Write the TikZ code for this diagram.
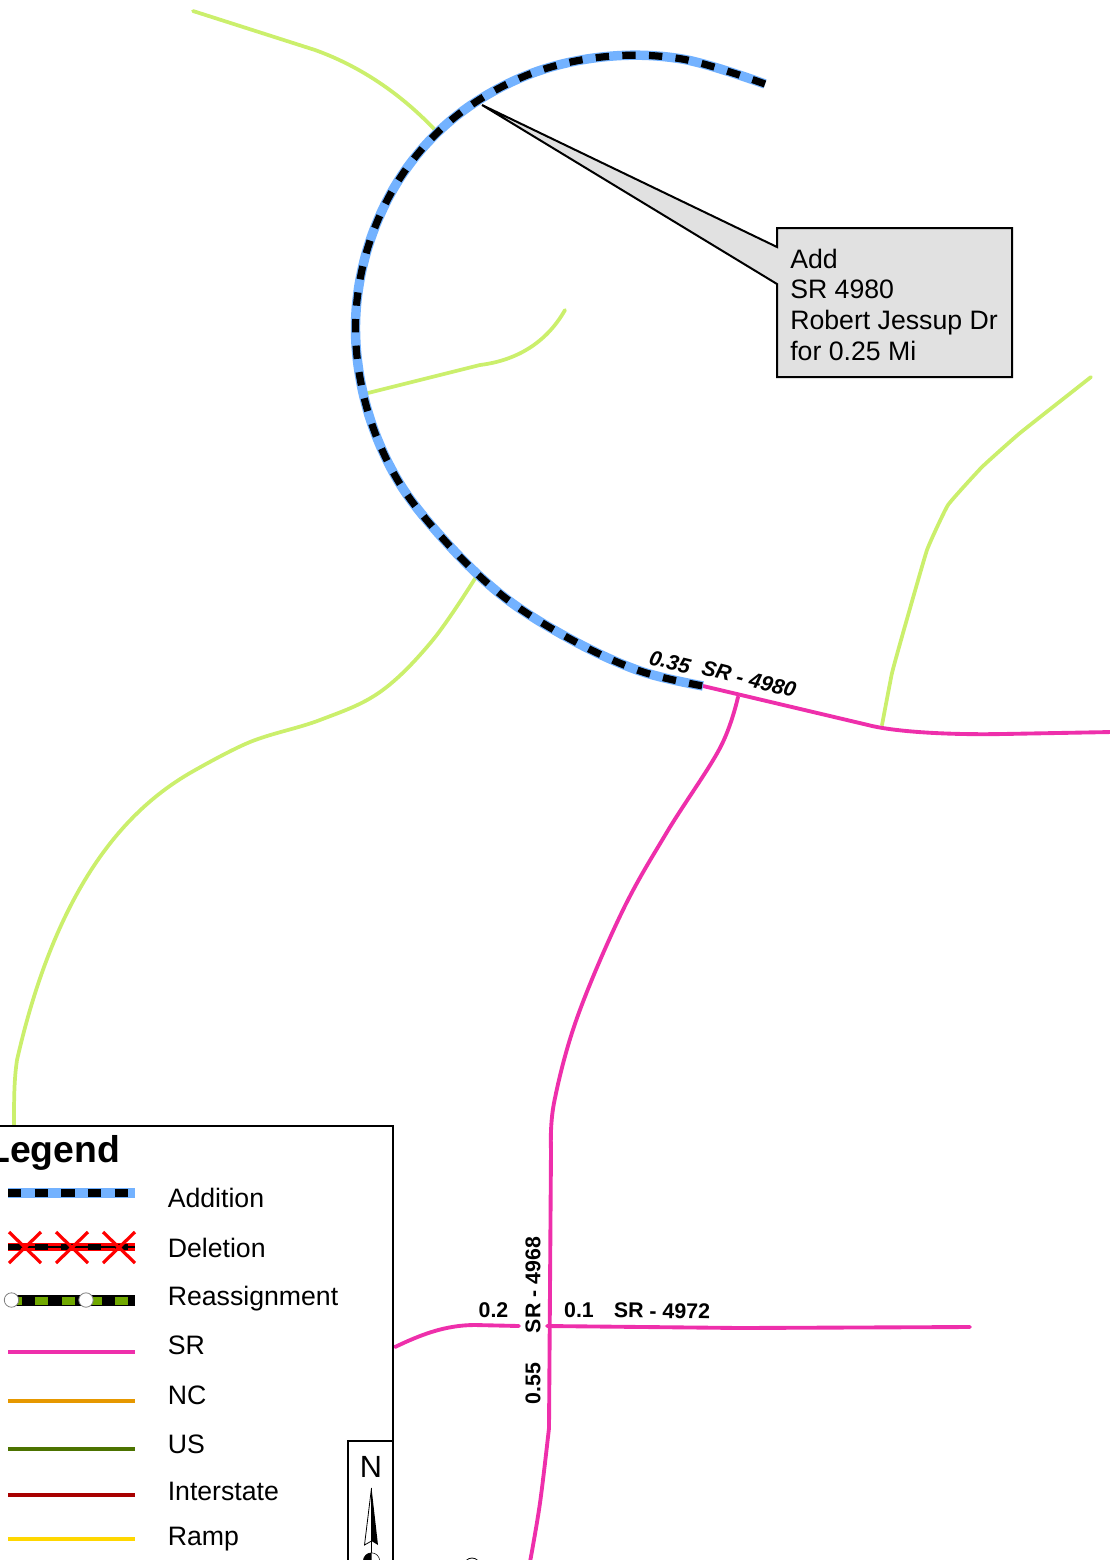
\documentclass[tikz,border=0pt]{standalone}
\usepackage{fontspec}
\setmainfont{Liberation Sans}
\definecolor{addblue}{HTML}{73B2FF}
\definecolor{srpink}{HTML}{EE2FAB}
\definecolor{lgreen}{HTML}{CBEF6C}
\definecolor{ncorange}{HTML}{E69800}
\definecolor{usgreen}{HTML}{4C7300}
\definecolor{intred}{HTML}{A80000}
\definecolor{rampyellow}{HTML}{FFD700}
\definecolor{regreen}{HTML}{70A800}
\definecolor{callgray}{HTML}{E1E1E1}
\tikzset{
  px/.style={x=0.75pt,y=-0.75pt},
  road/.style={line width=2.8pt,line join=round,line cap=round},
  minor/.style={road,color=lgreen},
  sr/.style={road,color=srpink,line width=2.9pt},
  swatch/.style={line width=3pt},
  addbase/.style={line width=7.1pt,color=addblue},
  addtop/.style={line width=5.4pt,color=black,dash pattern=on 10pt off 10pt},
  legtext/.style={anchor=base west,inner sep=0pt,font=\fontsize{20}{24}\selectfont},
  calltext/.style={anchor=base west,inner sep=0pt,font=\fontsize{20}{24}\selectfont},
  roadlabel/.style={inner sep=0pt,font=\fontsize{16}{18}\selectfont\bfseries},
  roadital/.style={inner sep=0pt,font=\fontsize{16}{18}\selectfont\bfseries\itshape,rotate=-14},
  framebox/.style={draw=black,line width=1.7pt,fill=white}
}
\newcommand{\addpts}{(765,84) (682,59) (602,57) (525,76) (455,117) (402,175) (368,247) (355.5,325) (366,405) (397,479) (446,542) (504,597) (572,640) (640,671) (703,686)}
\begin{document}
\begin{tikzpicture}[px]
\useasboundingbox (0,0) rectangle (1110,1560);
% minor roads
\draw[minor] (193,11) -- (315,50) .. controls (365,68) and (405,98) .. (436,131);
\draw[minor] (368,393) -- (480,365) .. controls (520,360) and (548,340) .. (565,310);
\draw[minor] plot[smooth,tension=0.6] coordinates {(476,577) (432,641) (380,692) (320,720) (250,742) (190,773)} .. controls (130,808) and (58,880) .. (17,1060) .. controls (14,1080) and (14,1100) .. (14,1128);
\draw[minor] plot[smooth,tension=0.2] coordinates {(882,725) (892,673) (903,633) (927,550) (948,505) (982,467) (1020,433) (1091,377)};
% SR roads
\draw[sr] (703,686) -- (868,725) .. controls (895,732) and (950,735) .. (1003,734) -- (1112,732);
\draw[sr] plot[smooth,tension=0.6] coordinates {(738,697) (720,748) (667,832) (622,912) (577,1018) (554,1103) (551,1150)} -- (549,1428);
\draw[sr] plot[smooth,tension=0.6] coordinates {(549,1428) (540,1503) (530,1562)};
\draw[sr] (547,1326) -- (740,1328) -- (970,1327);
\draw[sr] (395,1347) .. controls (420,1335) and (445,1325) .. (475,1325) -- (519,1326);
% addition
\draw[addbase] plot[smooth,tension=0.6] coordinates {\addpts};
\draw[addtop] plot[smooth,tension=0.6] coordinates {\addpts};
% callout
\draw[fill=callgray,line width=1.5pt,line join=miter] (482,105) -- (777,247) -- (777,228) -- (1012,228) -- (1012,377) -- (777,377) -- (777,284) -- cycle;
\node[calltext] (c1) at (790,268) {Add};
\node[calltext] (c2) at (790,298) {SR 4980};
\node[calltext] (c3) at (790,329) {Robert Jessup Dr};
\node[calltext] (c4) at (790,360) {for 0.25 Mi};
% road labels
\node[roadital] (l1) at (670,662) {0.35};
\node[roadital] (l2) at (749,679) {SR - 4980};
\node[roadlabel] (l3) at (493.5,1310) {0.2};
\node[roadlabel] (l4) at (579,1310) {0.1};
\node[roadlabel,rotate=-1] (l5) at (662,1311) {SR - 4972};
\node[roadlabel,rotate=90] (l6) at (533,1285) {SR - 4968};
\node[roadlabel,rotate=90] (l7) at (533,1383.5) {0.55};
% legend
\draw[framebox] (-4,1126) -- (393,1126) -- (393,1570) -- (-4,1570) -- cycle;
\node[anchor=base west,inner sep=0pt,font=\fontsize{28}{32}\selectfont\bfseries] (lt) at (-13,1162) {Legend};
\draw[addbase] (8,1193) -- (135,1193);
\draw[addtop] (8,1193) -- (135,1193);
\draw[red,line width=6pt] (8,1247) -- (135,1247);
\draw[black,line width=1.5pt] (8,1247) -- (135,1247);
\draw[black,line width=4.6pt,dash pattern=on 10pt off 10pt] (8,1247) -- (135,1247);
\foreach \cx in {25,72,119}{
  \draw[red,line width=2.4pt] (\cx-16,1232) -- (\cx+16,1263) (\cx-16,1263) -- (\cx+16,1232);
}
\draw[black,line width=8.2pt] (8,1300.5) -- (135,1300.5);
\foreach \a/\b in {17/22,35/48,62/75,88/102,115/128}{
  \draw[regreen,line width=6pt] (\a,1300.5) -- (\b,1300.5);
}
\foreach \cx in {11.5,86}{
  \draw[fill=white,draw=gray,line width=0.6pt] (\cx,1300) circle[radius=7.2];
}
\draw[swatch,srpink] (8,1351.5) -- (135,1351.5);
\draw[swatch,ncorange] (8,1400.5) -- (135,1400.5);
\draw[swatch,usgreen] (8,1449) -- (135,1449);
\draw[swatch,intred] (8,1494.5) -- (135,1494.5);
\draw[swatch,rampyellow] (8,1538.5) -- (135,1538.5);
\node[legtext] (t1) at (167.5,1207) {Addition};
\node[legtext] (t2) at (167.5,1257) {Deletion};
\node[legtext] (t3) at (167.5,1305) {Reassignment};
\node[legtext] (t4) at (167.5,1354) {SR};
\node[legtext] (t5) at (167.5,1404) {NC};
\node[legtext] (t6) at (167.5,1453) {US};
\node[legtext] (t7) at (167.5,1500) {Interstate};
\node[legtext] (t8) at (167.5,1545) {Ramp};
% north arrow
\draw[framebox] (348,1441) -- (393,1441) -- (393,1570) -- (348,1570) -- cycle;
\fill[black] (346.5,1545) rectangle (348,1549);
\node[anchor=base,inner sep=0pt,font=\fontsize{23}{26}\selectfont] (n) at (371,1477) {N};
\draw[black,fill=white,line width=0.6pt,line join=miter] (371.5,1488) -- (364.5,1545) -- (371.5,1541) -- cycle;
\fill[black] (371.5,1488) -- (378,1545) -- (371.5,1541) -- cycle;
\draw[black,line width=1.2pt] (371.5,1541) -- (371.5,1553);
\draw[black,fill=white,line width=0.4pt] (371.5,1561) circle[radius=8.2];
\fill[black] (371.5,1552.8) arc[start angle=270,end angle=90,radius=8.2] -- cycle;
% partial marker at the lower edge
\draw[black,fill=white,line width=0.6pt] (472,1566) circle[radius=8];
\end{tikzpicture}
\end{document}
